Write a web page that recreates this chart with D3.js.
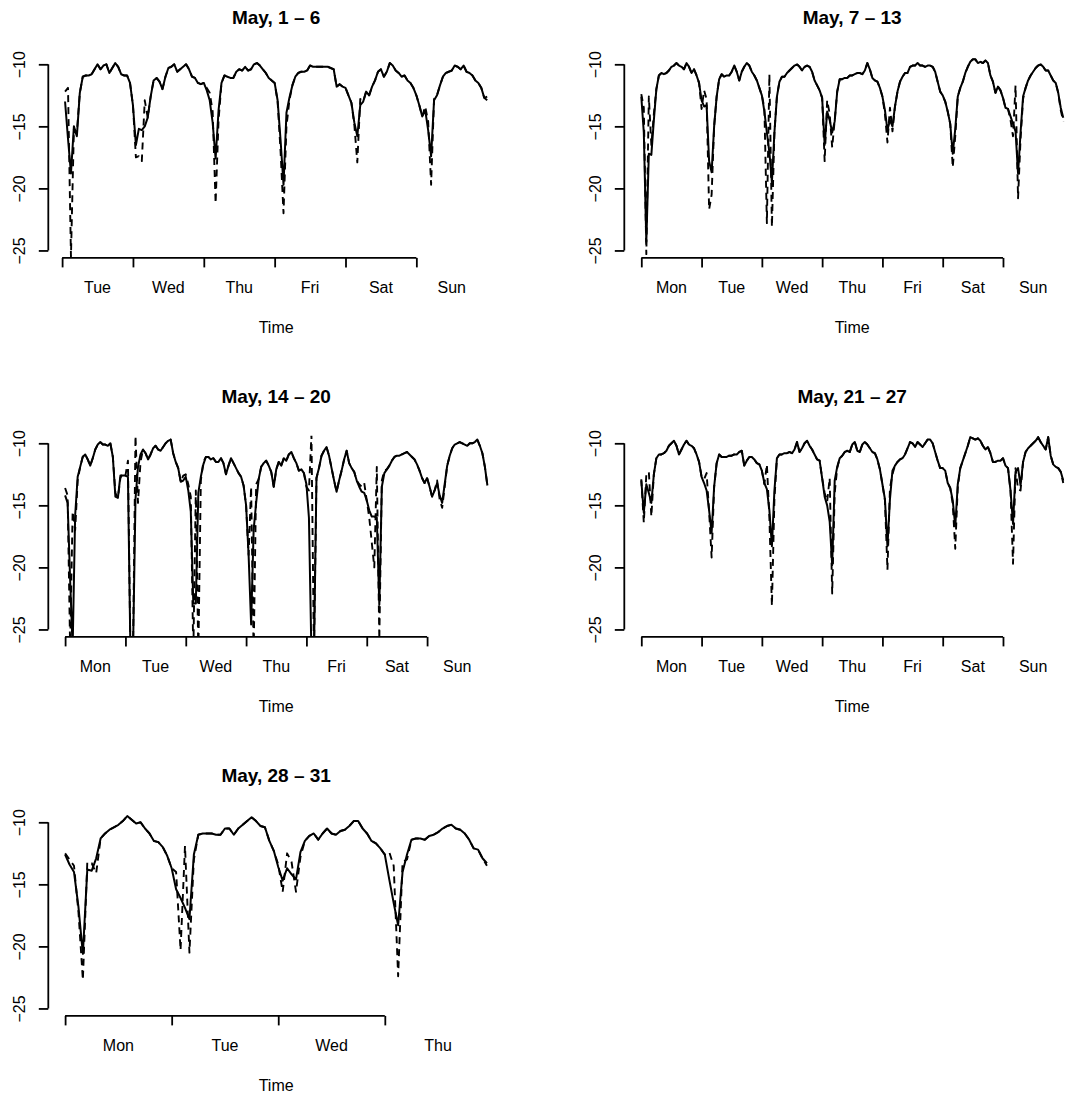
<!DOCTYPE html>
<html><head><meta charset="utf-8">
<script src="https://cdn.jsdelivr.net/npm/d3@7"></script>
<style>
body{margin:0;background:#fff}
svg{display:block}
text{font-family:"Liberation Sans",Arial,Helvetica,sans-serif;fill:#000}
</style>
</head><body>
<svg id="chart" width="1067" height="1095"></svg>
<script>
// ---------------- data ----------------
const panelTitles = ["May, 1 \u2013 6", "May, 7 \u2013 13", "May, 14 \u2013 20", "May, 21 \u2013 27", "May, 28 \u2013 31"];
const dayLabelsP1 = ["Tue", "Wed", "Thu", "Fri", "Sat", "Sun"];
const dayLabelsP2 = ["Mon", "Tue", "Wed", "Thu", "Fri", "Sat", "Sun"];
const dayLabelsP3 = ["Mon", "Tue", "Wed", "Thu", "Fri", "Sat", "Sun"];
const dayLabelsP4 = ["Mon", "Tue", "Wed", "Thu", "Fri", "Sat", "Sun"];
const dayLabelsP5 = ["Mon", "Tue", "Wed", "Thu"];
const firstHour = [1, 0, 0, 0, 0];   // hour (from first midnight) of the first hourly reading
const yTicks = [-25, -20, -15, -10];
const xLabel = "Time";

const solidP1 = [
-13.0,-16.0,-18.8,-15.0,-15.8,-12.3,-11.0,-10.9,-10.9,-10.8,-10.4,-10.0,-10.4,-10.1,-10.0,-10.7,-10.3,-9.9,-10.2,-10.8,-10.9,-10.9,-11.5,-13.3,
-16.5,-15.2,-15.3,-15.0,-14.3,-12.6,-11.3,-11.1,-11.4,-12.0,-11.0,-10.3,-10.2,-10.0,-10.6,-10.4,-10.2,-10.0,-10.4,-11.0,-11.1,-11.5,-11.6,-11.5,
-12.1,-12.9,-14.7,-17.6,-13.7,-11.5,-10.9,-11.0,-11.1,-11.1,-10.6,-10.4,-10.5,-10.2,-10.5,-10.4,-10.0,-9.9,-10.1,-10.4,-10.7,-11.1,-11.3,-11.5,
-12.9,-16.1,-19.7,-13.9,-12.7,-11.7,-11.0,-10.7,-10.6,-10.6,-10.5,-10.1,-10.2,-10.2,-10.2,-10.2,-10.2,-10.2,-10.3,-10.4,-11.8,-11.6,-11.8,-11.9,
-12.5,-13.1,-14.7,-15.8,-13.3,-13.0,-12.2,-12.5,-11.8,-11.3,-10.6,-10.4,-11.0,-10.6,-9.9,-10.1,-10.5,-10.7,-11.0,-10.9,-11.3,-11.5,-11.9,-12.5,
-13.3,-14.2,-13.7,-15.3,-17.4,-12.9,-12.5,-11.7,-11.0,-10.7,-10.6,-10.5,-10.1,-10.2,-10.4,-10.1,-10.6,-10.7,-10.9,-11.3,-11.5,-11.9,-12.7,-12.9];
const dashedP1 = [
-12.2,-11.9,-25.5,-15.2,-15.5,-12.3,-11.0,-10.9,-10.9,-10.8,-10.4,-10.0,-10.4,-10.1,-10.0,-10.7,-10.3,-9.9,-10.2,-10.8,-10.9,-10.9,-11.5,-13.3,
-17.5,-17.4,-17.8,-12.9,-14.3,-12.6,-11.3,-11.1,-11.4,-12.0,-11.0,-10.3,-10.2,-10.0,-10.6,-10.4,-10.2,-10.0,-10.4,-11.0,-11.1,-11.5,-11.6,-11.5,
-11.9,-12.3,-13.8,-21.2,-14.5,-11.5,-10.9,-11.0,-11.1,-11.1,-10.6,-10.4,-10.5,-10.2,-10.5,-10.4,-10.0,-9.9,-10.1,-10.4,-10.7,-11.1,-11.3,-11.5,
-13.0,-17.0,-22.0,-15.0,-12.9,-11.7,-11.0,-10.7,-10.6,-10.6,-10.5,-10.1,-10.2,-10.2,-10.2,-10.2,-10.2,-10.2,-10.3,-10.4,-11.8,-11.6,-11.8,-11.9,
-12.5,-13.1,-14.9,-17.9,-12.8,-13.0,-12.2,-12.5,-11.8,-11.3,-10.6,-10.4,-11.0,-10.6,-9.9,-10.1,-10.5,-10.7,-11.0,-10.9,-11.3,-11.5,-11.9,-12.5,
-13.3,-14.2,-13.4,-14.6,-19.7,-12.8,-12.5,-11.7,-11.0,-10.7,-10.6,-10.5,-10.1,-10.2,-10.4,-10.1,-10.6,-10.7,-10.9,-11.3,-11.5,-11.9,-12.7,-12.6];

const solidP2 = [
-12.6,-15.5,-24.3,-17.2,-17.3,-14.5,-12.0,-10.9,-10.7,-10.8,-10.7,-10.5,-10.2,-10.1,-9.9,-10.1,-10.2,-10.4,-9.9,-10.2,-10.7,-10.4,-10.9,-11.5,-12.9,
-13.4,-13.3,-17.8,-18.7,-15.0,-12.6,-11.2,-10.8,-11.0,-10.9,-10.9,-10.6,-10.1,-10.6,-11.3,-10.6,-10.2,-9.9,-10.1,-10.6,-10.9,-11.3,-11.9,-12.5,
-13.8,-15.5,-17.1,-19.5,-15.5,-12.6,-11.4,-11.0,-11.0,-10.7,-10.5,-10.3,-10.1,-10.0,-10.2,-10.5,-10.2,-10.1,-10.2,-10.6,-11.3,-11.7,-12.1,-12.7,
-16.5,-13.8,-14.5,-15.5,-14.6,-12.2,-11.2,-11.2,-11.1,-11.1,-10.9,-10.9,-10.8,-10.7,-10.7,-10.8,-10.5,-9.9,-10.4,-11.1,-11.3,-11.4,-11.9,-12.6,
-13.7,-15.3,-14.5,-15.0,-13.4,-12.2,-11.4,-11.0,-10.7,-10.7,-10.2,-10.1,-10.1,-9.9,-10.1,-10.1,-10.2,-10.1,-10.1,-10.2,-10.6,-11.4,-12.2,-12.5,
-13.0,-13.8,-14.8,-17.2,-15.2,-12.6,-11.9,-11.4,-10.7,-10.2,-9.8,-9.6,-9.6,-9.9,-9.8,-9.9,-9.7,-9.9,-10.9,-11.4,-12.3,-11.8,-12.1,-12.7,
-13.5,-13.6,-14.2,-14.8,-15.4,-18.8,-15.5,-12.6,-11.9,-11.3,-10.9,-10.6,-10.3,-10.1,-10.0,-10.2,-10.5,-10.5,-10.9,-11.3,-11.5,-12.3,-13.5,-14.3];
const dashedP2 = [
-12.4,-13.5,-25.3,-12.6,-16.5,-14.0,-12.0,-10.9,-10.7,-10.8,-10.7,-10.5,-10.2,-10.1,-9.9,-10.1,-10.2,-10.4,-9.9,-10.2,-10.7,-10.4,-10.9,-11.5,-13.6,
-12.1,-12.8,-21.7,-20.5,-15.0,-12.6,-11.2,-10.8,-11.0,-10.9,-10.9,-10.6,-10.1,-10.6,-11.3,-10.6,-10.2,-9.9,-10.1,-10.6,-10.9,-11.3,-11.9,-12.5,
-13.5,-22.8,-10.8,-23.1,-15.5,-12.6,-11.4,-11.0,-11.0,-10.7,-10.5,-10.3,-10.1,-10.0,-10.2,-10.5,-10.2,-10.1,-10.2,-10.6,-11.3,-11.7,-12.1,-12.7,
-17.8,-12.9,-14.0,-16.7,-14.5,-12.2,-11.2,-11.2,-11.1,-11.1,-10.9,-10.9,-10.8,-10.7,-10.7,-10.8,-10.5,-9.9,-10.4,-11.1,-11.3,-11.4,-11.9,-12.6,
-14.0,-16.3,-13.5,-15.4,-13.4,-12.2,-11.4,-11.0,-10.7,-10.7,-10.2,-10.1,-10.1,-9.9,-10.1,-10.1,-10.2,-10.1,-10.1,-10.2,-10.6,-11.4,-12.2,-12.5,
-13.0,-13.8,-14.8,-18.3,-15.8,-12.6,-11.9,-11.4,-10.7,-10.2,-9.8,-9.6,-9.6,-9.9,-9.8,-9.9,-9.7,-9.9,-10.9,-11.4,-12.3,-11.8,-12.1,-12.7,
-13.5,-13.6,-14.5,-15.8,-11.7,-20.8,-16.0,-12.8,-11.9,-11.3,-10.9,-10.6,-10.3,-10.1,-10.0,-10.2,-10.5,-10.5,-10.9,-11.3,-11.5,-12.3,-13.7,-14.6];

const solidP3 = [
-14.2,-14.8,-21.0,-26.5,-15.8,-12.7,-11.9,-11.1,-10.9,-11.3,-11.8,-11.2,-10.5,-10.1,-9.9,-10.1,-10.1,-10.2,-10.0,-11.1,-14.3,-14.4,-12.6,-12.6,-12.6,
-12.7,-27.0,-27.0,-14.5,-11.9,-10.9,-10.5,-10.8,-11.3,-10.9,-10.4,-10.2,-10.5,-10.6,-10.3,-10.0,-9.8,-9.7,-10.8,-11.5,-12.0,-13.1,-13.0,-12.7,
-13.8,-15.5,-22.9,-22.9,-14.0,-12.7,-11.7,-11.1,-11.1,-11.3,-11.2,-11.5,-11.5,-11.2,-11.6,-12.5,-11.8,-11.2,-11.6,-12.0,-12.4,-12.7,-13.4,-15.0,
-19.0,-24.6,-17.0,-14.8,-12.9,-11.9,-11.6,-11.4,-11.8,-12.3,-13.5,-12.1,-11.5,-11.8,-11.2,-11.4,-10.9,-10.7,-11.2,-11.6,-12.2,-12.1,-12.4,-13.3,
-16.0,-27.0,-27.0,-12.8,-12.0,-11.0,-10.6,-10.3,-11.0,-12.0,-13.0,-13.9,-13.0,-12.2,-11.3,-10.6,-11.6,-12.0,-12.3,-13.0,-13.5,-13.9,-14.0,-14.6,
-15.4,-15.9,-15.9,-16.0,-23.0,-13.5,-12.4,-12.1,-11.8,-11.4,-11.1,-11.0,-11.0,-10.9,-10.8,-10.7,-10.9,-11.1,-11.3,-11.7,-12.2,-12.8,-13.2,-12.8,
-13.5,-14.3,-13.8,-13.2,-14.2,-14.8,-13.3,-11.8,-11.0,-10.4,-10.1,-10.0,-9.9,-10.0,-10.1,-10.2,-10.0,-10.0,-9.9,-9.7,-10.2,-10.8,-11.9,-13.4];
const dashedP3 = [
-13.6,-14.2,-26.5,-15.5,-17.0,-13.0,-11.9,-11.1,-10.9,-11.3,-11.8,-11.2,-10.5,-10.1,-9.9,-10.1,-10.1,-10.2,-10.0,-11.1,-14.0,-14.4,-12.8,-12.4,-12.6,
-11.4,-27.0,-27.0,-9.4,-14.8,-11.5,-10.5,-10.8,-11.3,-10.9,-10.4,-10.2,-10.5,-10.6,-10.3,-10.0,-9.8,-9.7,-10.8,-11.5,-12.0,-13.1,-12.6,-12.5,
-13.3,-14.3,-27.0,-13.8,-27.0,-13.0,-11.5,-11.1,-11.1,-11.3,-11.2,-11.5,-11.5,-11.2,-11.6,-12.5,-11.8,-11.2,-11.6,-12.0,-12.4,-12.7,-13.4,-15.0,
-19.0,-13.5,-27.0,-13.3,-12.9,-11.9,-11.6,-11.4,-11.8,-12.3,-13.5,-12.1,-11.5,-11.8,-11.2,-11.4,-10.9,-10.7,-11.2,-11.6,-12.2,-12.1,-12.4,-13.5,
-13.8,-9.3,-27.0,-12.8,-12.0,-11.0,-10.6,-10.3,-11.0,-12.0,-13.0,-13.9,-13.0,-12.2,-11.3,-10.6,-11.6,-12.0,-12.3,-13.0,-13.3,-13.5,-13.2,-14.6,
-16.0,-18.0,-20.0,-11.9,-25.8,-13.0,-12.2,-12.1,-11.8,-11.4,-11.1,-11.0,-11.0,-10.9,-10.8,-10.7,-10.9,-11.1,-11.3,-11.7,-12.2,-12.8,-13.2,-12.8,
-13.5,-14.3,-13.8,-13.0,-14.5,-15.2,-13.5,-11.8,-11.0,-10.4,-10.1,-10.0,-9.9,-10.0,-10.1,-10.2,-10.0,-10.0,-9.9,-9.7,-10.2,-10.8,-11.9,-13.4];

const solidP4 = [
-13.0,-15.6,-13.3,-14.0,-14.8,-12.5,-11.2,-10.9,-10.9,-10.8,-10.6,-10.2,-10.0,-9.8,-10.2,-10.9,-10.5,-10.1,-9.8,-10.1,-10.2,-10.4,-10.9,-11.5,-12.7,
-13.2,-13.8,-15.4,-17.2,-13.5,-11.6,-10.9,-11.1,-11.1,-11.1,-11.0,-11.0,-10.9,-10.9,-10.7,-10.6,-11.8,-11.4,-11.1,-11.1,-11.3,-11.6,-11.7,-12.2,
-13.2,-13.7,-15.4,-18.3,-13.8,-11.2,-10.9,-10.9,-10.8,-10.8,-10.7,-10.8,-10.5,-9.9,-10.7,-10.4,-10.0,-9.8,-10.2,-10.5,-10.9,-11.3,-11.4,-12.8,
-14.3,-15.0,-16.3,-19.8,-13.0,-11.9,-11.2,-11.0,-10.7,-10.6,-10.7,-10.1,-9.9,-10.6,-10.7,-10.1,-9.9,-10.1,-10.4,-10.7,-10.8,-11.3,-12.1,-13.3,
-14.5,-18.3,-14.5,-12.2,-11.8,-11.5,-11.3,-11.2,-10.9,-10.4,-9.9,-10.0,-10.3,-9.9,-10.1,-10.3,-10.0,-9.7,-9.7,-10.0,-10.7,-11.4,-12.0,-12.0,
-12.2,-13.2,-13.6,-14.6,-16.7,-13.3,-12.0,-11.4,-10.8,-10.2,-9.5,-9.6,-9.7,-9.6,-9.8,-10.2,-10.5,-10.3,-10.8,-11.5,-11.5,-11.4,-11.4,-11.2,
-11.8,-12.0,-13.8,-16.5,-12.3,-12.0,-13.4,-11.5,-10.7,-10.4,-10.2,-10.0,-9.8,-9.5,-9.9,-10.2,-10.5,-9.5,-11.0,-11.7,-11.9,-12.0,-12.3,-13.0];
const dashedP4 = [
-12.9,-16.4,-12.5,-12.3,-15.9,-12.5,-11.2,-10.9,-10.9,-10.8,-10.6,-10.2,-10.0,-9.8,-10.2,-10.9,-10.5,-10.1,-9.8,-10.1,-10.2,-10.4,-10.9,-11.5,-12.7,
-12.9,-12.4,-15.5,-19.2,-13.5,-11.6,-10.9,-11.1,-11.1,-11.1,-11.0,-11.0,-10.9,-10.9,-10.7,-10.6,-11.8,-11.4,-11.1,-11.1,-11.3,-11.6,-11.7,-12.2,
-13.3,-11.7,-16.0,-23.1,-14.5,-11.2,-10.9,-10.9,-10.8,-10.8,-10.7,-10.8,-10.5,-9.9,-10.7,-10.4,-10.0,-9.8,-10.2,-10.5,-10.9,-11.3,-11.4,-12.8,
-14.0,-14.7,-12.8,-22.1,-14.0,-12.0,-11.2,-11.0,-10.7,-10.6,-10.7,-10.1,-9.9,-10.6,-10.7,-10.1,-9.9,-10.1,-10.4,-10.7,-10.8,-11.3,-12.1,-13.3,
-14.6,-20.2,-13.6,-12.5,-11.8,-11.5,-11.3,-11.2,-10.9,-10.4,-9.9,-10.0,-10.3,-9.9,-10.1,-10.3,-10.0,-9.7,-9.7,-10.0,-10.7,-11.4,-12.0,-12.0,
-12.2,-13.2,-13.6,-14.9,-18.5,-13.5,-12.0,-11.4,-10.8,-10.2,-9.5,-9.6,-9.7,-9.6,-9.8,-10.2,-10.5,-10.3,-10.8,-11.5,-11.5,-11.4,-11.4,-11.2,
-11.8,-12.0,-13.8,-19.7,-12.0,-13.7,-13.8,-11.5,-10.7,-10.4,-10.2,-10.0,-9.8,-9.5,-9.9,-10.2,-10.5,-9.5,-11.0,-11.7,-11.9,-12.0,-12.3,-13.2];

const solidP5 = [
-12.6,-13.4,-14.0,-16.8,-20.6,-13.8,-13.9,-12.9,-11.3,-10.9,-10.6,-10.4,-10.2,-9.9,-9.5,-9.8,-10.1,-10.0,-10.5,-10.9,-11.5,-11.6,-12.0,-12.7,
-13.7,-15.4,-16.1,-16.9,-17.8,-12.6,-11.0,-10.9,-10.9,-10.9,-11.0,-11.0,-10.5,-10.5,-11.0,-10.5,-10.2,-9.9,-9.6,-9.9,-10.3,-10.4,-11.5,-12.3,
-13.6,-14.7,-13.7,-14.2,-14.6,-12.4,-11.5,-11.1,-10.9,-11.4,-10.9,-10.5,-10.9,-11.0,-10.7,-10.6,-10.3,-9.9,-9.9,-10.5,-10.9,-11.5,-11.7,-12.1,
-12.6,-14.6,-16.5,-18.3,-14.0,-12.6,-11.4,-11.3,-11.3,-11.4,-11.1,-11.0,-10.8,-10.5,-10.3,-10.2,-10.5,-10.6,-10.9,-11.4,-12.1,-12.2,-12.9,-13.3];
const dashedP5 = [
-12.5,-13.0,-13.5,-17.2,-22.7,-13.2,-13.3,-14.1,-11.3,-10.9,-10.6,-10.4,-10.2,-9.9,-9.5,-9.8,-10.1,-10.0,-10.5,-10.9,-11.5,-11.6,-12.0,-12.7,
-13.7,-14.0,-20.3,-11.9,-20.5,-13.0,-11.0,-10.9,-10.9,-10.9,-11.0,-11.0,-10.5,-10.5,-11.0,-10.5,-10.2,-9.9,-9.6,-9.9,-10.3,-10.4,-11.5,-12.3,
-13.4,-15.6,-12.5,-13.2,-15.6,-12.8,-11.5,-11.1,-10.9,-11.4,-10.9,-10.5,-10.9,-11.0,-10.7,-10.6,-10.3,-9.9,-9.9,-10.5,-10.9,-11.5,-11.7,-12.1,
-12.6,-12.4,-13.5,-22.4,-13.2,-13.0,-11.4,-11.3,-11.3,-11.4,-11.1,-11.0,-10.8,-10.5,-10.3,-10.2,-10.5,-10.6,-10.9,-11.4,-12.1,-12.2,-12.9,-13.5];

// ---------------- layout (positions only) ----------------
const plotW = 455.7;        // plot region width
const unitPx = 12.41;       // pixels per dB unit
const layout = [
  {plotLeft: 48.3,  tick0: 62.1,  dayW: 70.85,  y10: 64.3},
  {plotLeft: 624.3, tick0: 641.3, dayW: 60.28,  y10: 64.3},
  {plotLeft: 48.3,  tick0: 65.1,  dayW: 60.33,  y10: 443.3},
  {plotLeft: 624.3, tick0: 641.3, dayW: 60.28,  y10: 443.3},
  {plotLeft: 48.3,  tick0: 65.1,  dayW: 106.57, y10: 822.3}
];

const panels = [
  {title: panelTitles[0], days: dayLabelsP1, solid: solidP1, dashed: dashedP1, h0: firstHour[0]},
  {title: panelTitles[1], days: dayLabelsP2, solid: solidP2, dashed: dashedP2, h0: firstHour[1]},
  {title: panelTitles[2], days: dayLabelsP3, solid: solidP3, dashed: dashedP3, h0: firstHour[2]},
  {title: panelTitles[3], days: dayLabelsP4, solid: solidP4, dashed: dashedP4, h0: firstHour[3]},
  {title: panelTitles[4], days: dayLabelsP5, solid: solidP5, dashed: dashedP5, h0: firstHour[4]}
];

const svg = d3.select("#chart");
const fmt = d3.format("d");

panels.forEach((p, i) => {
  const L = layout[i];
  const nDays = p.days.length;
  const x = d3.scaleLinear().domain([0, nDays * 24]).range([L.tick0, L.tick0 + nDays * L.dayW]);
  const yBottom = L.y10 + 15.6 * unitPx, yTop = L.y10 - 0.6 * unitPx;
  const y = d3.scaleLinear().domain([-25.6, -9.4]).range([yBottom, yTop]);
  const g = svg.append("g");

  const clipId = "clip" + i;
  svg.append("clipPath").attr("id", clipId).append("rect")
    .attr("x", L.plotLeft).attr("y", yTop)
    .attr("width", plotW).attr("height", yBottom - yTop);

  const line = d3.line().x(d => x(d.h)).y(d => y(d.v));
  const toPts = arr => arr.map((v, k) => ({h: p.h0 + k, v}));

  const lines = g.append("g").attr("clip-path", `url(#${clipId})`);
  lines.append("path").datum(toPts(p.dashed)).attr("d", line)
    .attr("fill", "none").attr("stroke", "#000").attr("stroke-width", 1.9)
    .attr("stroke-dasharray", "7,5").attr("stroke-linejoin", "round");
  lines.append("path").datum(toPts(p.solid)).attr("d", line)
    .attr("fill", "none").attr("stroke", "#000").attr("stroke-width", 2)
    .attr("stroke-linejoin", "round");

  // y axis
  const yAxisG = g.append("g").attr("transform", `translate(${L.plotLeft},0)`)
    .call(d3.axisLeft(y).tickValues(yTicks).tickSize(9.5).tickFormat(fmt));
  yAxisG.select(".domain").remove();
  yAxisG.selectAll("line").attr("stroke", "#000").attr("stroke-width", 1.8);
  yAxisG.selectAll("text")
    .attr("x", null).attr("dy", null)
    .attr("text-anchor", "middle")
    .attr("transform", "translate(-23,0) rotate(-90)")
    .style("font-size", "16px")
    .style("font-family", '"Liberation Sans", Arial, sans-serif');
  g.append("line")
    .attr("x1", L.plotLeft).attr("x2", L.plotLeft)
    .attr("y1", y(yTicks[0])).attr("y2", y(yTicks[yTicks.length - 1]))
    .attr("stroke", "#000").attr("stroke-width", 1.8);

  // x axis
  const dayStarts = d3.range(nDays).map(d => d * 24);
  const xAxisG = g.append("g").attr("transform", `translate(0,${yBottom})`)
    .call(d3.axisBottom(x).tickValues(dayStarts).tickSize(9.5).tickFormat(""));
  xAxisG.select(".domain").remove();
  xAxisG.selectAll("line").attr("stroke", "#000").attr("stroke-width", 1.8);
  g.append("line")
    .attr("x1", x(dayStarts[0])).attr("x2", x(dayStarts[dayStarts.length - 1]))
    .attr("y1", yBottom).attr("y2", yBottom)
    .attr("stroke", "#000").attr("stroke-width", 1.8);
  g.selectAll(".daylab").data(p.days).enter().append("text")
    .attr("x", (d, k) => x(k * 24 + 12)).attr("y", yBottom + 35)
    .attr("text-anchor", "middle").style("font-size", "16px").text(d => d);

  const cx = L.plotLeft + plotW / 2;
  g.append("text").attr("x", cx).attr("y", yBottom + 74.8)
    .attr("text-anchor", "middle").style("font-size", "16px").text(xLabel);
  g.append("text").attr("x", cx).attr("y", L.y10 - 40.3)
    .attr("text-anchor", "middle").style("font-size", "19px").style("font-weight", "bold")
    .text(p.title);
});
</script>
</body></html>
